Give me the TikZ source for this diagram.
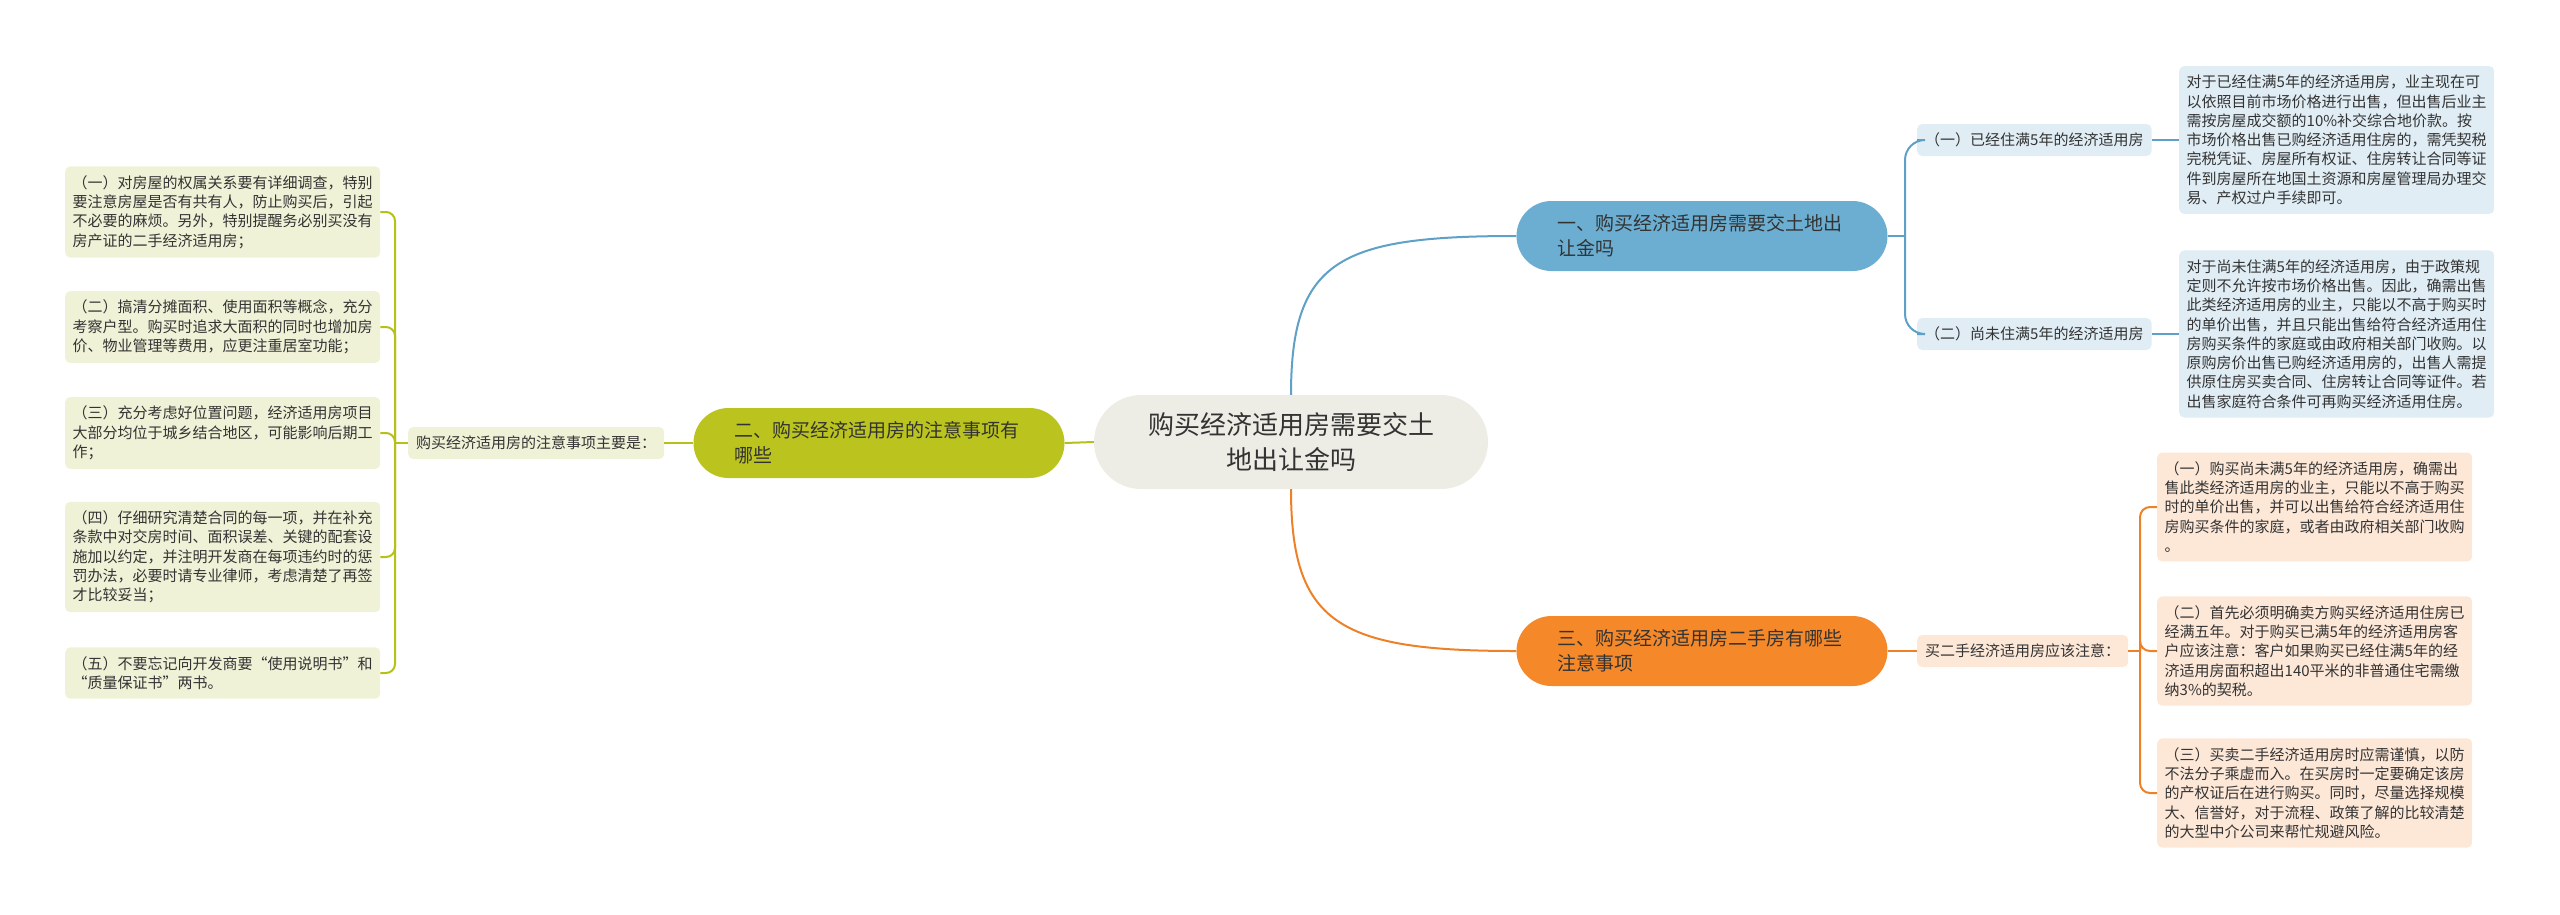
\documentclass[tikz,border=0pt]{standalone}
\usepackage{fontspec}
\newfontfamily\cjk{Noto Sans CJK SC}
\definecolor{mmtext}{RGB}{51,51,51}
\definecolor{mmroot}{RGB}{237,237,230}
\definecolor{mmgreen}{RGB}{181,192,25}
\definecolor{mmgreenfill}{RGB}{187,195,30}
\definecolor{mmgreenbox}{RGB}{240,242,215}
\definecolor{mmblue}{RGB}{94,160,198}
\definecolor{mmbluefill}{RGB}{107,174,210}
\definecolor{mmbluebox}{RGB}{224,237,245}
\definecolor{mmorange}{RGB}{236,129,40}
\definecolor{mmorangefill}{RGB}{245,137,42}
\definecolor{mmorangebox}{RGB}{253,232,216}

\begin{document}
\begin{tikzpicture}[x=1pt,y=-1pt,
  every node/.style={font=\cjk\fontsize{15}{19.3}\selectfont,text=mmtext},
  leaf/.style={fill=#1,rounded corners=5pt,text width=300pt,align=left,
    inner xsep=7.5pt,inner ysep=9pt,anchor=west},
  tag/.style={fill=#1,rounded corners=5pt,inner xsep=8pt,minimum height=32pt,anchor=west},
  topic/.style={fill=#1,rounded corners=35pt,minimum width=371pt,minimum height=70pt,
    text width=290pt,align=left,font=\cjk\fontsize{19}{25}\selectfont},
  link/.style={line width=2pt,draw=#1}]
  \useasboundingbox (0,0) rectangle (2560,914);

  % root and main topics
  \node[fill=mmroot,rounded corners=47pt,minimum width=394pt,minimum height=94pt,
    align=center,font=\cjk\fontsize{26}{35}\selectfont] (root) at (1291,442)
    {购买经济适用房需要交土\\地出让金吗};
  \node[topic=mmbluefill] (bnode) at (1702,236) {一、购买经济适用房需要交土地出\\让金吗};
  \node[topic=mmgreenfill] (gnode) at (879,443) {二、购买经济适用房的注意事项有\\哪些};
  \node[topic=mmorangefill] (onode) at (1702,651) {三、购买经济适用房二手房有哪些\\注意事项};

  % left branch
  \node[tag=mmgreenbox] (glabel) at (408,443) {购买经济适用房的注意事项主要是：};
  \node[leaf=mmgreenbox] (leaf1) at (65,212) {（一）对房屋的权属关系要有详细调查，特别\\要注意房屋是否有共有人，防止购买后，引起\\不必要的麻烦。另外，特别提醒务必别买没有\\房产证的二手经济适用房；};
  \node[leaf=mmgreenbox] (leaf2) at (65,327) {（二）搞清分摊面积、使用面积等概念，充分\\考察户型。购买时追求大面积的同时也增加房\\价、物业管理等费用，应更注重居室功能；};
  \node[leaf=mmgreenbox] (leaf3) at (65,433) {（三）充分考虑好位置问题，经济适用房项目\\大部分均位于城乡结合地区，可能影响后期工\\作；};
  \node[leaf=mmgreenbox] (leaf4) at (65,557) {（四）仔细研究清楚合同的每一项，并在补充\\条款中对交房时间、面积误差、关键的配套设\\施加以约定，并注明开发商在每项违约时的惩\\罚办法，必要时请专业律师，考虑清楚了再签\\才比较妥当；};
  \node[leaf=mmgreenbox] (leaf5) at (65,673) {（五）不要忘记向开发商要“使用说明书”和\\“质量保证书”两书。};
  \coordinate (gj) at (395,443);

  % upper right branch
  \node[tag=mmbluebox] (bchild1) at (1917,140) {（一）已经住满5年的经济适用房};
  \node[tag=mmbluebox] (bchild2) at (1917,334) {（二）尚未住满5年的经济适用房};
  \node[leaf=mmbluebox] (btext1) at (2179,140) {对于已经住满5年的经济适用房，业主现在可\\以依照目前市场价格进行出售，但出售后业主\\需按房屋成交额的10\%补交综合地价款。按\\市场价格出售已购经济适用住房的，需凭契税\\完税凭证、房屋所有权证、住房转让合同等证\\件到房屋所在地国土资源和房屋管理局办理交\\易、产权过户手续即可。};
  \node[leaf=mmbluebox] (btext2) at (2179,334) {对于尚未住满5年的经济适用房，由于政策规\\定则不允许按市场价格出售。因此，确需出售\\此类经济适用房的业主，只能以不高于购买时\\的单价出售，并且只能出售给符合经济适用住\\房购买条件的家庭或由政府相关部门收购。以\\原购房价出售已购经济适用房的，出售人需提\\供原住房买卖合同、住房转让合同等证件。若\\出售家庭符合条件可再购买经济适用住房。};
  \coordinate (bj) at (1905,236);

  % lower right branch
  \node[tag=mmorangebox] (olabel) at (1917,651) {买二手经济适用房应该注意：};
  \node[leaf=mmorangebox] (otext1) at (2157,507) {（一）购买尚未满5年的经济适用房，确需出\\售此类经济适用房的业主，只能以不高于购买\\时的单价出售，并可以出售给符合经济适用住\\房购买条件的家庭，或者由政府相关部门收购\\。};
  \node[leaf=mmorangebox] (otext2) at (2157,651) {（二）首先必须明确卖方购买经济适用住房已\\经满五年。对于购买已满5年的经济适用房客\\户应该注意：客户如果购买已经住满5年的经\\济适用房面积超出140平米的非普通住宅需缴\\纳3\%的契税。};
  \node[leaf=mmorangebox] (otext3) at (2157,793) {（三）买卖二手经济适用房时应需谨慎，以防\\不法分子乘虚而入。在买房时一定要确定该房\\的产权证后在进行购买。同时，尽量选择规模\\大、信誉好，对于流程、政策了解的比较清楚\\的大型中介公司来帮忙规避风险。};
  \coordinate (oj) at (2140,651);

  % connectors
  \draw[link=mmblue] (root.north) .. controls +(0,-135) and +(-177,0) .. (bnode.west);
  \draw[link=mmorange] (root.south) .. controls +(0,135) and +(-177,0) .. (onode.west);
  \draw[link=mmgreen] (root.west) -- (gnode.east);
  \draw[link=mmgreen] (gnode.west) -- (glabel.east);
  \draw[link=mmgreen] (glabel.west) -- (gj);
  \foreach \n in {1,...,5}
    \draw[link=mmgreen,rounded corners=9pt] (gj) |- (leaf\n.east);
  \draw[link=mmblue] (bnode.east) -- (bj);
  \foreach \n in {1,2} {
    \draw[link=mmblue,rounded corners=20pt] (bj) |- (bchild\n.west);
    \draw[link=mmblue] (bchild\n.east) -- (btext\n.west);
  }
  \draw[link=mmorange] (onode.east) -- (olabel.west);
  \draw[link=mmorange] (olabel.east) -- (oj);
  \foreach \n in {1,2,3}
    \draw[link=mmorange,rounded corners=10pt] (oj) |- (otext\n.west);
\end{tikzpicture}
\end{document}
